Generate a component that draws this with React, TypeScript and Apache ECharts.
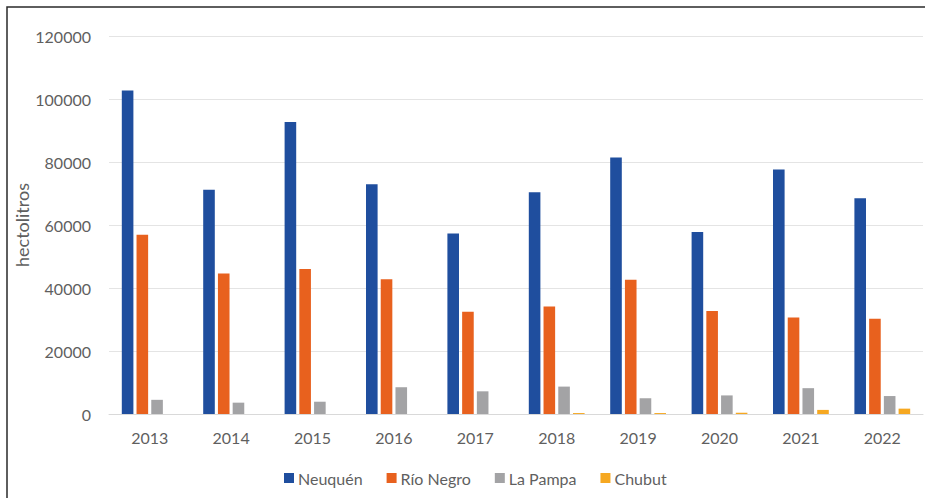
import React, { useEffect, useRef } from "react";
import * as echarts from "echarts";

const years = ["2013", "2014", "2015", "2016", "2017", "2018", "2019", "2020", "2021", "2022"];
const neuquen = [102700, 71200, 92700, 72900, 57300, 70400, 81400, 57800, 77600, 68500];
const rioNegro = [56900, 44600, 46000, 42800, 32500, 34100, 42600, 32700, 30600, 30200];
const laPampa = [4500, 3600, 3900, 8500, 7200, 8700, 5000, 5900, 8200, 5700];
const chubut = [0, 0, 0, 0, 0, 300, 300, 400, 1300, 1700];
const seriesNames = ["Neuquén", "Río Negro", "La Pampa", "Chubut"];
const colors = ["#1f4e9e", "#e8611e", "#a3a3a5", "#f6a821"];

export default function App() {
  const ref = useRef<HTMLDivElement>(null);
  useEffect(() => {
    if (!ref.current) return;
    const chart = echarts.init(ref.current, null, { renderer: "svg" });
    const font = "Lato, 'Liberation Sans', sans-serif";
    const data = [neuquen, rioNegro, laPampa, chubut];
    chart.setOption({
      animation: false,
      backgroundColor: "#ffffff",
      textStyle: { fontFamily: font },
      graphic: [
        {
          type: "rect",
          shape: { x: 7, y: 7, width: 940, height: 520 },
          style: { fill: "none", stroke: "#2a2a2a", lineWidth: 1.5 },
          silent: true,
        },
      ],
      legend: {
        data: seriesNames,
        left: 279,
        top: 465,
        itemWidth: 10,
        itemHeight: 10,
        itemGap: 24,
        icon: "rect",
        textStyle: { fontFamily: font, fontSize: 16, color: "#5f5f5f", padding: [0, 0, 0, -1] },
      },
      grid: { left: 109, right: 2, top: 36, bottom: 84, containLabel: false },
      xAxis: {
        type: "category",
        data: years,
        axisLine: { show: true, lineStyle: { color: "#d9d9d9", width: 1 } },
        axisTick: { show: false },
        axisLabel: { fontFamily: font, fontSize: 16, color: "#5f5f5f", margin: 15 },
      },
      yAxis: {
        type: "value",
        min: 0,
        max: 120000,
        interval: 20000,
        name: "hectolitros",
        nameLocation: "middle",
        nameGap: 78,
        nameMoveOverlap: false,
        nameTextStyle: { fontFamily: font, fontSize: 18, color: "#5f5f5f" },
        axisLine: { show: false },
        axisTick: { show: false },
        axisLabel: {
          fontFamily: font,
          fontSize: 16,
          color: "#5f5f5f",
          margin: 18,
          formatter: (v: number) => String(v),
        },
        splitLine: { lineStyle: { color: "#e4e4e4", width: 1 } },
      },
      series: seriesNames.map((name, i) => ({
        name,
        type: "bar",
        data: data[i],
        barWidth: 11.6,
        barGap: "27%",
        itemStyle: { color: colors[i] },
      })),
    });
    return () => chart.dispose();
  }, []);
  return (
    <div
      ref={ref}
      style={{ position: "fixed", left: 0, top: 0, width: 925, height: 498 }}
    />
  );
}
